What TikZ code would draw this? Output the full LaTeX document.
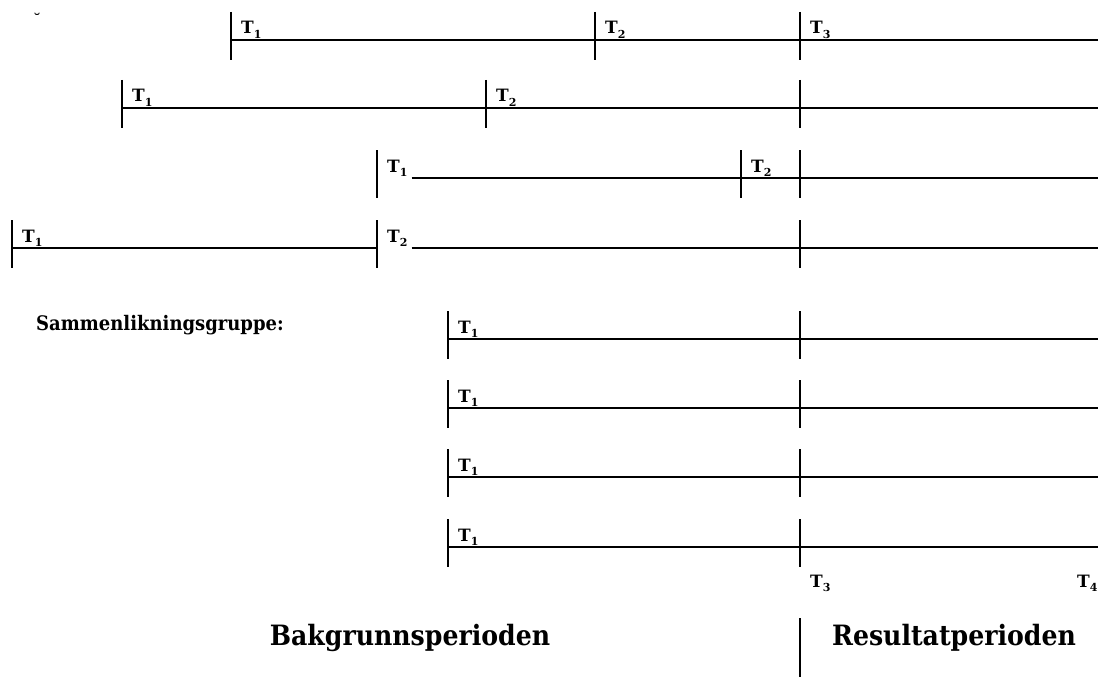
\documentclass[tikz,border=0pt]{standalone}
\usepackage{fontspec}
\setmainfont{DejaVu Serif}
\newfontfamily\condfont{DejaVu Serif Condensed}
\usetikzlibrary{calc}
\newcommand{\Tlab}[1]{T\raisebox{-0.5ex}{\fontsize{11}{11}\selectfont #1}}
\tikzset{tl/.style={line width=2.8pt}}
\tikzset{tickmark/.style={line width=2.8pt}}
\tikzset{tlabel/.style={anchor=base west,inner sep=1pt,font=\fontsize{17}{17}\selectfont\bfseries}}
\tikzset{period/.style={anchor=base,inner sep=0pt,font=\fontsize{28}{28}\selectfont\condfont\bfseries}}
\tikzset{
	x=1pt,
	y=-1pt,
}

\begin{document}
\begin{tikzpicture}
\useasboundingbox (0,0) rectangle (1098,677);
\node[inner sep=0pt,font=\fontsize{17}{17}\selectfont] (mark) at (37,20) {˘};

% row 1
\draw[tl] (231,40) -- (1098,40);
\foreach \x in {231,595,800} \draw[tickmark] (\x,12) -- (\x,60);
\node[tlabel] (r1a) at (240,34) {\Tlab{1}};
\node[tlabel] (r1b) at (604,34) {\Tlab{2}};
\node[tlabel] (r1c) at (809,34) {\Tlab{3}};

% row 2
\draw[tl] (122,108) -- (1098,108);
\foreach \x in {122,486,800} \draw[tickmark] (\x,80) -- (\x,128);
\node[tlabel] (r2a) at (131,102) {\Tlab{1}};
\node[tlabel] (r2b) at (495,102) {\Tlab{2}};

% row 3
\foreach \x in {377,741,800} \draw[tickmark] (\x,150) -- (\x,198);
\node[tlabel] (r3a) at (386,172) {\Tlab{1}};
\node[tlabel] (r3b) at (750,172) {\Tlab{2}};
\draw[tl] ($(r3a.east|-0,178)+(3,0)$) -- (1098,178);

% row 4
\foreach \x in {12,377,800} \draw[tickmark] (\x,220) -- (\x,268);
\node[tlabel] (r4a) at (21,242) {\Tlab{1}};
\node[tlabel] (r4b) at (386,242) {\Tlab{2}};
\draw[tl] (12,248) -- (377,248);
\draw[tl] ($(r4b.east|-0,248)+(3,0)$) -- (1098,248);

% sammenlikningsgruppe
\node[anchor=base west,inner sep=0pt,font=\fontsize{20}{20}\selectfont\condfont\bfseries] (gr) at (36,330) {Sammenlikningsgruppe:};
\foreach \y in {339,408,477,547} {
	\draw[tl] (448,\y) -- (1098,\y);
	\draw[tickmark] (448,\y-28) -- (448,\y+20);
	\draw[tickmark] (800,\y-28) -- (800,\y+20);
	\node[tlabel] at (457,\y-6) {\Tlab{1}};
}

\node[tlabel] (t3) at (809,587) {\Tlab{3}};
\node[tlabel] (t4) at (1076,587) {\Tlab{4}};

% perioder
\draw[tickmark] (800,618) -- (800,677);
\node[period] (bak) at (410,645) {Bakgrunnsperioden};
\node[period] (res) at (954,645) {Resultatperioden};

\end{tikzpicture}
\end{document}
